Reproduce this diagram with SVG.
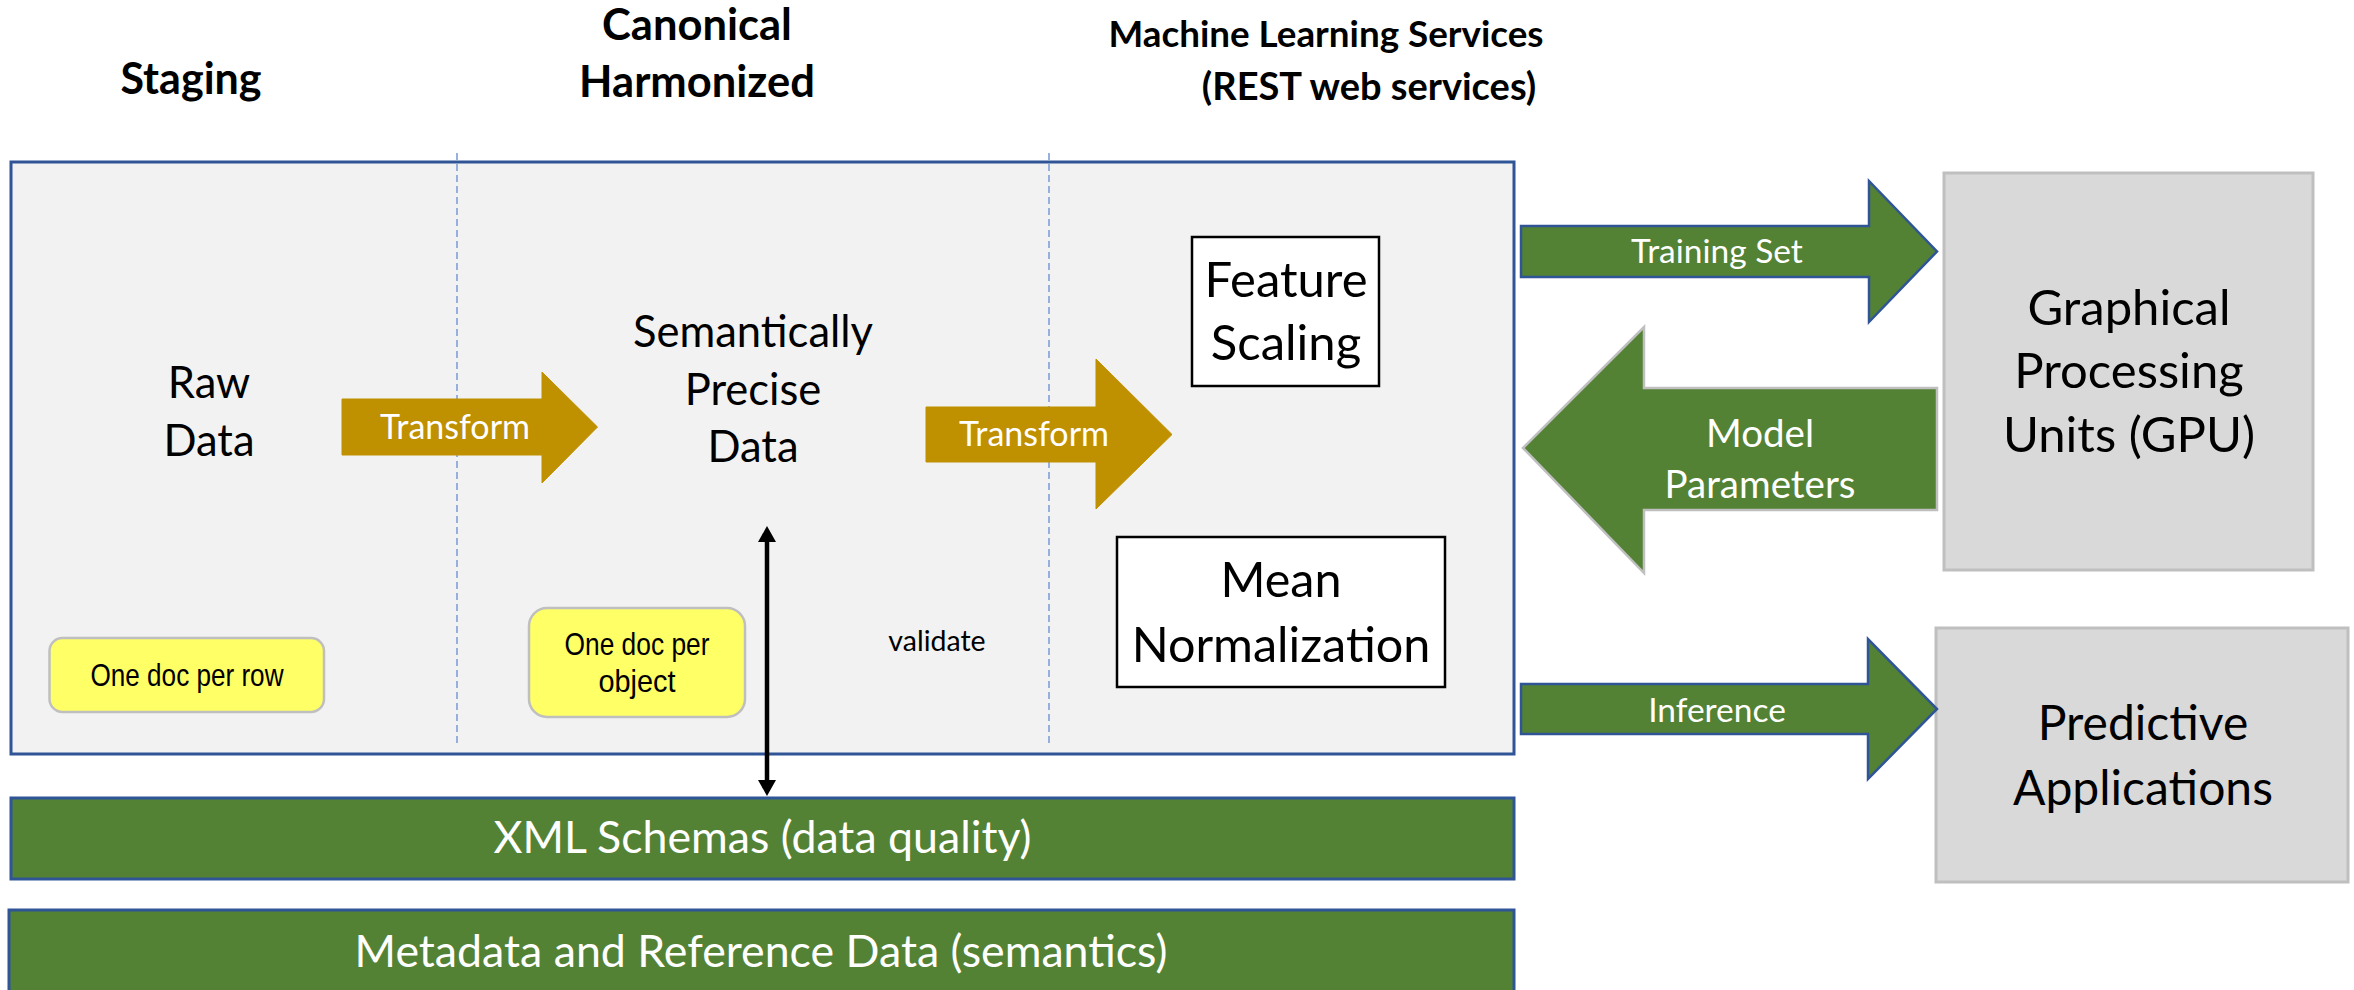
<svg xmlns="http://www.w3.org/2000/svg" width="2354" height="990" viewBox="0 0 2354 990">
  <defs>
    <style>
      .hdr { font-family: Lato, "Open Sans", sans-serif; font-weight: 700; fill: #000; text-anchor: middle; }
      .lbl { font-family: Lato, "Open Sans", sans-serif; fill: #000; text-anchor: middle; }
      .wlbl { font-family: Lato, "Open Sans", sans-serif; fill: #fff; text-anchor: middle; }
      .note-txt { font-family: "Liberation Sans Narrow", "Liberation Sans", Arial, sans-serif; fill: #000; text-anchor: middle; font-size: 31.5px; }
      .panel { fill: #f2f2f2; stroke: #2f5597; stroke-width: 3; }
      .divider { stroke: #7f9fd8; stroke-width: 1.6; stroke-dasharray: 7 4; fill: none; }
      .gold { fill: #bf9000; stroke: #bf9000; stroke-width: 1; }
      .green { fill: #548235; stroke: #2f5597; stroke-width: 2.5; }
      .green-grey { fill: #548235; stroke: #bfbfbf; stroke-width: 2.5; }
      .bar { fill: #548235; stroke: #2f5597; stroke-width: 3; }
      .ext { fill: #d9d9d9; stroke: #bfbfbf; stroke-width: 3; }
      .step { fill: #ffffff; stroke: #000; stroke-width: 2.5; }
      .note { fill: #ffff66; stroke: #bfbfbf; stroke-width: 2.5; }
      .link { stroke: #000; stroke-width: 4.5; fill: none; }
    </style>
    <marker id="head" viewBox="0 0 16 18" refX="0" refY="9" markerWidth="16" markerHeight="18" markerUnits="userSpaceOnUse" orient="auto-start-reverse">
      <path d="M0,0 L16,9 L0,18 Z" fill="#000"/>
    </marker>
  </defs>

  <rect width="2354" height="990" fill="#ffffff"/>

  <!-- column headings -->
  <g id="headings">
    <text class="hdr" x="191" y="94" font-size="43">Staging</text>
    <text class="hdr" x="697" y="40" font-size="43.5">Canonical</text>
    <text class="hdr" x="697" y="97" font-size="43.5">Harmonized</text>
    <text class="hdr" x="1326" y="47" font-size="36.8">Machine Learning Services</text>
    <text class="hdr" x="1369" y="100" font-size="38">(REST web services)</text>
  </g>

  <!-- pipeline panel with its three lanes -->
  <g id="pipeline">
    <rect class="panel" x="11" y="162" width="1503" height="592"/>
    <line class="divider" x1="457" y1="153" x2="457" y2="745"/>
    <line class="divider" x1="1049" y1="153" x2="1049" y2="743"/>
  </g>

  <g id="raw-data">
    <text class="lbl" x="209" y="398" font-size="43.5">Raw</text>
    <text class="lbl" x="209" y="456" font-size="43.5">Data</text>
  </g>

  <g id="precise-data">
    <text class="lbl" x="753" y="347" font-size="43.5">Semantically</text>
    <text class="lbl" x="753" y="405" font-size="43.5">Precise</text>
    <text class="lbl" x="753" y="462" font-size="43.5">Data</text>
  </g>

  <g id="feature-scaling">
    <rect class="step" x="1192" y="237" width="187" height="149"/>
    <text class="lbl" x="1286" y="297" font-size="49">Feature</text>
    <text class="lbl" x="1286" y="360" font-size="49">Scaling</text>
  </g>

  <g id="mean-normalization">
    <rect class="step" x="1117" y="537" width="328" height="150"/>
    <text class="lbl" x="1281" y="597" font-size="48.5">Mean</text>
    <text class="lbl" x="1281" y="662" font-size="48.5">Normalization</text>
  </g>

  <g id="note-row">
    <rect class="note" x="49.5" y="638" width="274.5" height="74" rx="13"/>
    <text class="note-txt" x="187" y="686" textLength="193" lengthAdjust="spacingAndGlyphs">One doc per row</text>
  </g>

  <g id="note-object">
    <rect class="note" x="529" y="608" width="216" height="109" rx="18"/>
    <text class="note-txt" x="637" y="655" textLength="145" lengthAdjust="spacingAndGlyphs">One doc per</text>
    <text class="note-txt" x="637" y="692" textLength="77" lengthAdjust="spacingAndGlyphs">object</text>
  </g>

  <g id="xml-schemas">
    <rect class="bar" x="11" y="798" width="1503" height="81"/>
    <text class="wlbl" x="762.5" y="853" font-size="44.7">XML Schemas (data quality)</text>
  </g>

  <g id="metadata">
    <rect class="bar" x="9" y="910" width="1505" height="84"/>
    <text class="wlbl" x="761" y="967" font-size="44.7">Metadata and Reference Data (semantics)</text>
  </g>

  <g id="gpu">
    <rect class="ext" x="1944" y="173" width="369" height="397"/>
    <text class="lbl" x="2129" y="325" font-size="49">Graphical</text>
    <text class="lbl" x="2129" y="388" font-size="49">Processing</text>
    <text class="lbl" x="2129" y="452" font-size="49">Units (GPU)</text>
  </g>

  <g id="predictive-apps">
    <rect class="ext" x="1936" y="628" width="412" height="254"/>
    <text class="lbl" x="2143" y="740" font-size="48">Predictive</text>
    <text class="lbl" x="2143" y="805" font-size="48">Applications</text>
  </g>

  <!-- connectors -->
  <g id="connectors">
    <g id="transform-1">
      <polygon class="gold" points="342,399 542,399 542,372 597.5,427 542,483 542,455 342,455"/>
      <text class="wlbl" x="455" y="439" font-size="34">Transform</text>
    </g>
    <g id="transform-2">
      <polygon class="gold" points="926,407 1096,407 1096,359 1172,434.5 1096,509 1096,462 926,462"/>
      <text class="wlbl" x="1034" y="446" font-size="34">Transform</text>
    </g>
    <g id="validate">
      <line class="link" x1="767" y1="542" x2="767" y2="780" marker-start="url(#head)" marker-end="url(#head)"/>
      <text class="lbl" x="937" y="651" font-size="28.5">validate</text>
    </g>
    <g id="training-set">
      <polygon class="green" points="1521,226 1869,226 1869,181 1937,251.5 1869,322 1869,277 1521,277"/>
      <text class="wlbl" x="1717" y="263" font-size="33.5">Training Set</text>
    </g>
    <g id="model-parameters">
      <polygon class="green-grey" points="1523,448 1644,327 1644,388 1937,388 1937,510 1644,510 1644,573"/>
      <text class="wlbl" x="1760" y="447" font-size="38.5">Model</text>
      <text class="wlbl" x="1760" y="498" font-size="38.5">Parameters</text>
    </g>
    <g id="inference">
      <polygon class="green" points="1521,684 1868,684 1868,639 1937,709 1868,779 1868,734 1521,734"/>
      <text class="wlbl" x="1717" y="722" font-size="33.5">Inference</text>
    </g>
  </g>
</svg>
